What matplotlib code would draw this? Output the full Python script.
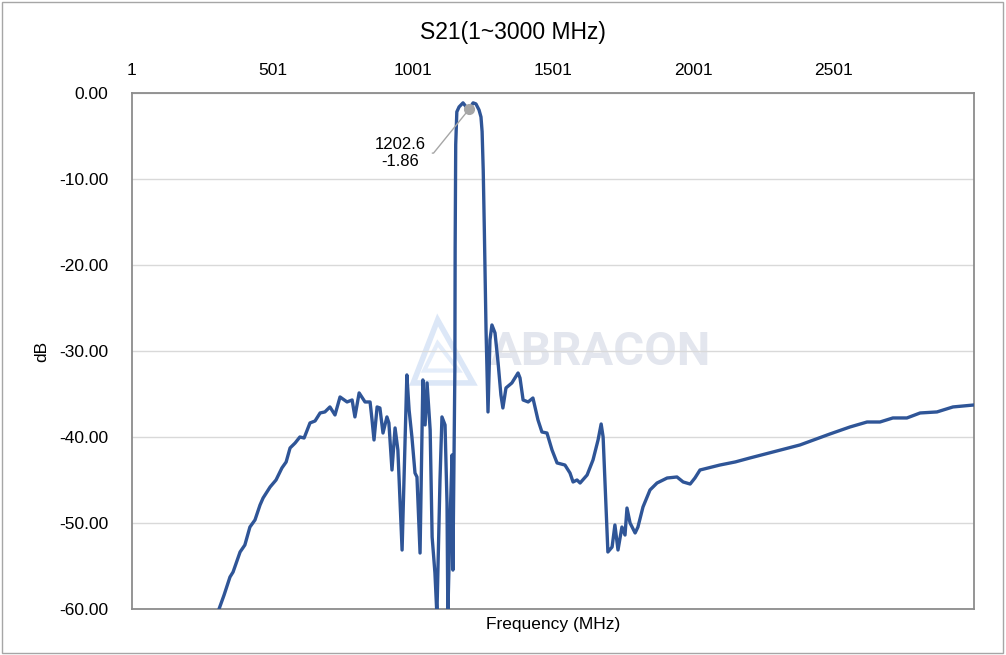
import numpy as np
import matplotlib
matplotlib.use('Agg')
import matplotlib.pyplot as plt
from matplotlib.patches import Polygon, Rectangle
from matplotlib.ticker import FormatStrFormatter

plt.rcParams['font.family'] = ['Liberation Sans', 'DejaVu Sans']
plt.rcParams['axes.unicode_minus'] = False

# S21 trace (MHz, dB)
freq = [311, 329, 350, 361, 386, 403, 421, 439, 457, 468, 493, 514, 535, 550, 564, 582,
        599, 614, 635, 653, 671, 688, 706, 724, 742, 767, 785, 795, 810, 831, 849, 856,
        863, 874, 884, 895, 909, 916, 927, 938, 948, 963, 980, 988, 998, 1009, 1016, 1027,
        1037, 1045, 1052, 1063, 1070, 1080, 1087, 1098, 1105, 1116, 1123, 1126, 1134, 1141,
        1144, 1151, 1152, 1154, 1158, 1166, 1180, 1194, 1202.6, 1216, 1226, 1237, 1244, 1248,
        1252, 1256, 1262, 1269, 1276, 1283, 1294, 1305, 1315, 1322, 1333, 1354, 1376, 1383,
        1394, 1412, 1429, 1447, 1461, 1479, 1497, 1515, 1543, 1561, 1572, 1586, 1597, 1622,
        1643, 1661, 1672, 1679, 1686, 1696, 1711, 1721, 1732, 1746, 1757, 1764, 1775, 1793,
        1803, 1821, 1846, 1871, 1907, 1942, 1964, 1989, 2006, 2024, 2095, 2150, 2202, 2290,
        2380, 2487, 2558, 2619, 2665, 2711, 2761, 2808, 2868, 2925, 3000]
s21 = [-60.0, -58.37, -56.28, -55.70, -53.37, -52.56, -50.47, -49.65, -47.91, -47.09, -45.81,
       -45.0, -43.60, -42.91, -41.28, -40.70, -40.0, -40.12, -38.37, -38.14, -37.21, -37.09,
       -36.51, -37.44, -35.35, -35.93, -35.70, -37.67, -34.88, -35.93, -35.93, -38.02, -40.35,
       -36.51, -36.63, -39.54, -37.67, -38.37, -43.84, -38.95, -41.51, -53.14, -32.79, -36.86,
       -40.0, -44.19, -44.65, -53.49, -33.37, -38.60, -33.72, -39.19, -51.63, -55.81, -60.70,
       -45.0, -37.67, -38.60, -47.67, -60.70, -49.65, -42.09, -55.47, -32.21, -18.0, -6.0,
       -2.2, -1.63, -1.16, -1.74, -1.86, -1.16, -1.28, -1.98, -2.8, -4.5, -9.0, -16.0, -27.56,
       -37.09, -28.72, -26.98, -27.91, -31.40, -35.12, -36.63, -34.30, -33.72, -32.56, -33.14,
       -35.70, -35.93, -35.47, -38.02, -39.42, -39.54, -41.51, -43.02, -43.26, -44.19, -45.23,
       -45.0, -45.35, -44.42, -42.67, -40.35, -38.49, -40.0, -45.58, -53.37, -52.79, -50.23,
       -53.14, -50.47, -51.40, -48.26, -50.0, -51.16, -50.47, -48.14, -46.16, -45.35, -44.77,
       -44.65, -45.23, -45.47, -44.77, -43.84, -43.26, -42.9, -42.44, -41.7, -40.93, -39.65,
       -38.84, -38.26, -38.26, -37.79, -37.79, -37.21, -37.09, -36.51, -36.28]

x_ticks = [1, 501, 1001, 1501, 2001, 2501]
y_ticks = [0, -10, -20, -30, -40, -50, -60]
marker_f = 1202.6
marker_db = -1.86

fig = plt.figure(figsize=(10.06, 6.55), dpi=100)
ax = fig.add_axes([0.1312, 0.0702, 0.837, 0.788])

# watermark
ax.text(0.556, 0.498, 'ABRACON', transform=ax.transAxes, ha='center', va='center',
        fontsize=34, fontweight='bold', family='Roboto', color='#E3E6EE', zorder=0)
ax.add_patch(Polygon([[0.363, 0.560], [0.334, 0.438], [0.405, 0.438]], closed=True,
                     fill=False, ec='#DCE7F7', lw=4, transform=ax.transAxes, zorder=0))
ax.add_patch(Polygon([[0.363, 0.515], [0.347, 0.462], [0.388, 0.462]], closed=True,
                     fill=False, ec='#E4EDFA', lw=3, transform=ax.transAxes, zorder=0))

ax.plot(freq, s21, color='#2F5597', lw=2.4, zorder=3)

ax.set_xlim(1, 3000)
ax.set_ylim(-60, 0)
ax.set_xticks(x_ticks)
ax.set_yticks(y_ticks)
ax.yaxis.set_major_formatter(FormatStrFormatter('%.2f'))
ax.xaxis.tick_top()
ax.tick_params(axis='x', length=0, pad=11, labelsize=12.5)
ax.tick_params(axis='y', length=0, pad=17, labelsize=12.5)
ax.grid(axis='y', color='#D9D9D9', lw=1)
ax.set_axisbelow(True)
for s in ax.spines.values():
    s.set_color('#8C8C8C')
    s.set_linewidth(1.3)

ax.xaxis.set_label_position('bottom')
ax.set_xlabel('Frequency (MHz)', fontsize=12.5, labelpad=6)
ax.set_ylabel('dB', fontsize=12.5)
ax.yaxis.set_label_coords(-0.098, 0.5)

fig.text(0.510, 0.951, 'S21(1~3000 MHz)', ha='center', va='center', fontsize=16.5)

# marker label
ax.plot([marker_f], [marker_db], 'o', color='#A6A6A6', ms=7, zorder=4)
ax.annotate('%.1f\n%.2f' % (marker_f, marker_db), xy=(marker_f, marker_db),
            xytext=(955, -7.0), ha='center', va='center', fontsize=12, linespacing=1.15,
            arrowprops=dict(arrowstyle='-', color='#A6A6A6', lw=1, shrinkA=3, shrinkB=0,
                            connectionstyle='angle,angleA=0,angleB=51,rad=0'))

fig.patches.append(Rectangle((0.002, 0.003), 0.995, 0.994, transform=fig.transFigure,
                             fill=False, ec='#A6A6A6', lw=1))

plt.savefig('out.png', dpi=100)
